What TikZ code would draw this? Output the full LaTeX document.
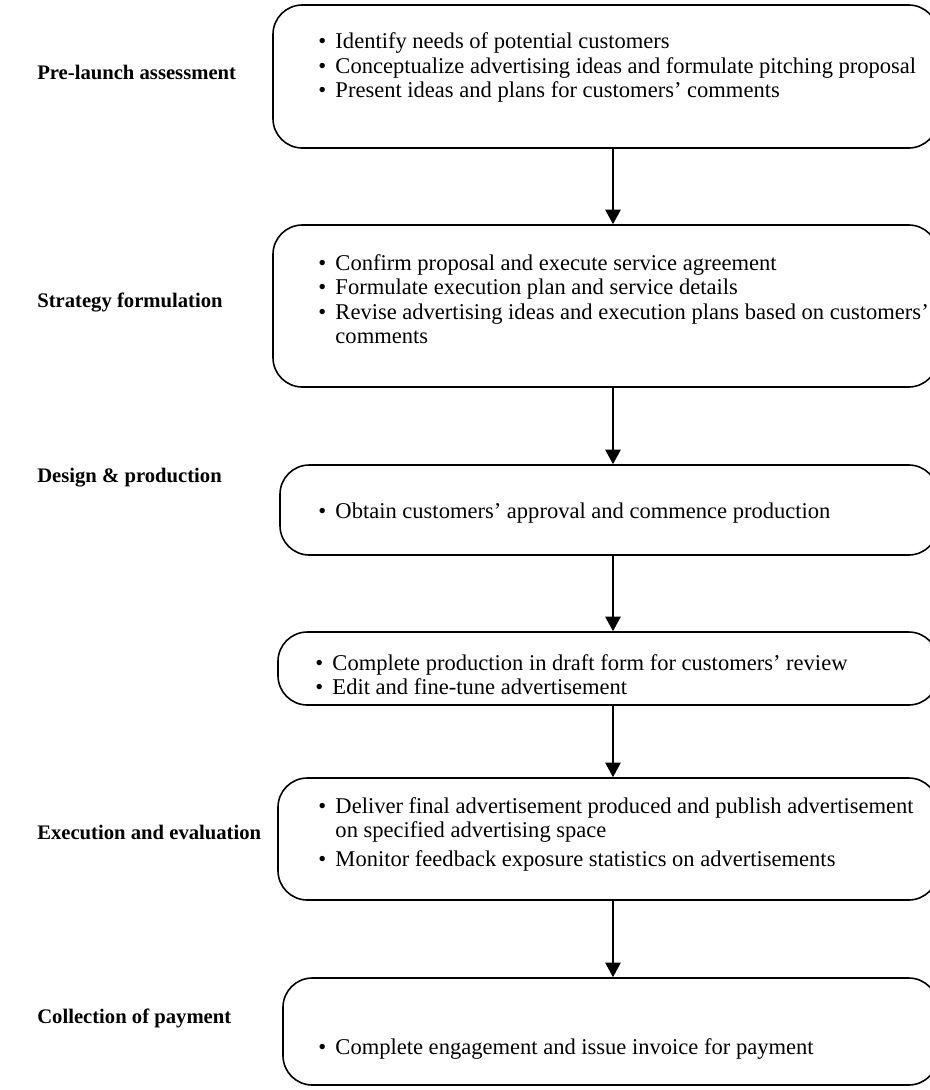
\documentclass[tikz,border=0pt]{standalone}
\usepackage{fontspec}
\setmainfont{Liberation Serif}
\usetikzlibrary{arrows.meta}
\begin{document}
\fontsize{16.9pt}{18.4pt}\selectfont
\begin{tikzpicture}[x=0.75pt,y=-0.75pt,
  box/.style 2 args={draw, line width=1.2pt, rounded corners=22pt, inner sep=0pt,
    minimum width=#1*0.75pt, minimum height=#2*0.75pt},
  flow/.style={-{Triangle[width=11.5pt,length=11pt]}, line width=1.4pt},
  phase/.style={anchor=west, inner sep=0pt, font=\fontsize{15.5pt}{18pt}\selectfont\bfseries},
  items/.style={anchor=west, inner sep=0pt}
]
\useasboundingbox (0,0) rectangle (930,1090);

% stage boxes (right side runs past the page edge)
\node[box={665}{143}] (b1) at (605.5,76.5) {};
\node[box={665}{162}] (b2) at (605.5,306) {};
\node[box={658}{90}]  (b3) at (609,510) {};
\node[box={660}{73}]  (b4) at (608,668.5) {};
\node[box={660}{122}] (b5) at (608,839) {};
\node[box={655}{107}] (b6) at (610.5,1031.5) {};

% phase names
\node[phase] (p1) at (37,72)   {Pre-launch assessment};
\node[phase] (p2) at (37,302)  {Strategy formulation};
\node[phase] (p3) at (37,478)  {Design \& production};
\node[phase] (p5) at (37,832)  {Execution and evaluation};
\node[phase] (p6) at (37,1018) {Collection of payment};

% bullet lists
\node[items] (t1) at (318,68.5) {\begin{tabular}{@{}l@{\hspace{7pt}}l@{}}
\textbullet & Identify needs of potential customers\\
\textbullet & Conceptualize advertising ideas and formulate pitching proposal\\
\textbullet & Present ideas and plans for customers’ comments
\end{tabular}};
\node[items] (t2) at (318,302) {\begin{tabular}{@{}l@{\hspace{7pt}}l@{}}
\textbullet & Confirm proposal and execute service agreement\\
\textbullet & Formulate execution plan and service details\\
\textbullet & Revise advertising ideas and execution plans based on customers’\\
 & comments
\end{tabular}};
\node[items] (t3) at (318,514) {\begin{tabular}{@{}l@{\hspace{7pt}}l@{}}
\textbullet & Obtain customers’ approval and commence production
\end{tabular}};
\node[items] (t4) at (315,677.5) {\begin{tabular}{@{}l@{\hspace{7pt}}l@{}}
\textbullet & Complete production in draft form for customers’ review\\
\textbullet & Edit and fine-tune advertisement
\end{tabular}};
\node[items] (t5) at (318,835) {\begin{tabular}{@{}l@{\hspace{7pt}}l@{}}
\textbullet & Deliver final advertisement produced and publish advertisement\\
 & on specified advertising space\\[3pt]
\textbullet & Monitor feedback exposure statistics on advertisements
\end{tabular}};
\node[items] (t6) at (318,1050) {\begin{tabular}{@{}l@{\hspace{7pt}}l@{}}
\textbullet & Complete engagement and issue invoice for payment
\end{tabular}};

% connectors down the flow
\coordinate (ax) at (613,0);
\draw[flow] (b1.south -| ax) -- (b2.north -| ax);
\draw[flow] (b2.south -| ax) -- (b3.north -| ax);
\draw[flow] (b3.south -| ax) -- (b4.north -| ax);
\draw[flow] (b4.south -| ax) -- (b5.north -| ax);
\draw[flow] (b5.south -| ax) -- (b6.north -| ax);
\end{tikzpicture}
\end{document}
